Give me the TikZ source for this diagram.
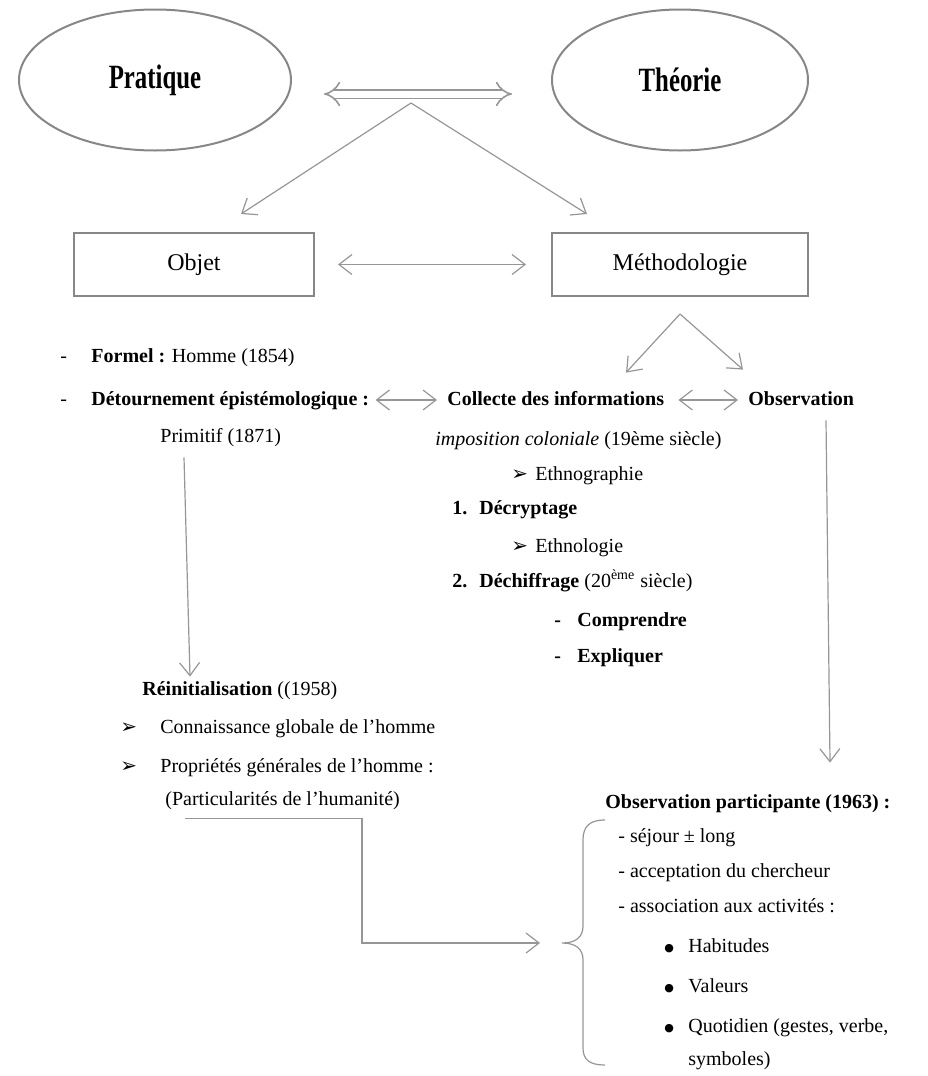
\documentclass[tikz,border=0pt]{standalone}
\usepackage{fontspec}
\setmainfont{Liberation Serif}
\newfontfamily\symfont{DejaVu Sans}
\newfontfamily\headfont[FakeStretch=0.73]{Liberation Serif}
\usetikzlibrary{arrows.meta,shapes.geometric}
\definecolor{lngray}{RGB}{150,150,150}
\definecolor{bxgray}{RGB}{135,135,135}
\newcommand{\leadbox}[2]{\makebox[#1][l]{#2}}
\newcommand{\arrbullet}{{\symfont\fontsize{10}{12}\selectfont ➢}}
\newcommand{\dotbullet}{\raisebox{0.4pt}{\symfont\fontsize{5.5}{6}\selectfont ●}}

\begin{document}
\begin{tikzpicture}[x=0.5pt,y=-0.5pt,>={Straight Barb[length=6.5pt,width=10pt]},
    txt/.style={anchor=west,inner sep=0pt,text height=7pt,text depth=2pt,font=\fontsize{10}{12}\selectfont},
    ovalnode/.style={ellipse,draw=bxgray,line width=1pt,minimum width=136pt,minimum height=70.5pt,font=\headfont\bfseries\fontsize{17}{19}\selectfont},
    boxnode/.style={rectangle,draw=bxgray,line width=1pt,minimum height=31.5pt,font=\fontsize{12}{14}\selectfont},
    link/.style={draw=lngray,line width=0.6pt}]
  \useasboundingbox (0,0) rectangle (927,1076);
  \node[ovalnode] (pratique) at (155,80) {Pratique};
  \node[ovalnode,minimum width=128pt] (theorie) at (680,80) {Théorie};
  \node[boxnode,minimum width=120pt] (objet) at (194,264.5) {Objet};
  \node[boxnode,minimum width=128pt] (methodo) at (680,264.5) {Méthodologie};
  \coordinate (tophub) at (411,103);
  \coordinate (methhub) at ([yshift=-8.5pt]methodo.south);
  \draw[link,line width=0.8pt,double=white,double distance=3.5pt,Implies-Implies,shorten <=16pt,shorten >=19.5pt] ([yshift=-7pt]pratique.east) -- ([yshift=-7pt]theorie.west);
  \draw[link,->] (tophub) -- ([shift={(47,-18)}]objet.north);
  \draw[link,->] (tophub) -- ([shift={(-93,-18)}]methodo.north);
  \draw[link,<->,shorten <=11.5pt,shorten >=12.5pt] (objet) -- (methodo);

  \node[txt] (formel) at (60,357) {\leadbox{15.5pt}{-}\textbf{Formel :} Homme (1854)};
  \node[txt] (detour) at (60,400) {\leadbox{15.5pt}{-}\textbf{Détournement épistémologique :}};
  \node[txt] (collecte) at (447,400) {\textbf{Collecte des informations}};
  \node[txt] (observ) at (748,400) {\textbf{Observation}};
  \node[txt] (primitif) at (160,437) {Primitif (1871)};
  \node[txt] (imposition) at (435,440) {\textit{imposition coloniale} (19ème siècle)};
  \node[txt] (ethnographie) at (511,475) {\leadbox{12pt}{\arrbullet}Ethnographie};
  \node[txt] (decrypt) at (452,509) {\textbf{\leadbox{13.5pt}{1.}Décryptage}};
  \node[txt] (ethnologie) at (511,547) {\leadbox{12pt}{\arrbullet}Ethnologie};
  \node[txt] (dechiff) at (452,582) {\textbf{\leadbox{13.5pt}{2.}Déchiffrage} (20\textsuperscript{ème} siècle)};
  \node[txt] (comprendre) at (554,621) {\textbf{\leadbox{11.5pt}{-}Comprendre}};
  \node[txt] (expliquer) at (554,657) {\textbf{\leadbox{11.5pt}{-}Expliquer}};
  \draw[link,->] (methhub) -- ([shift={(179,-18)}]collecte.north west);
  \draw[link,->] (methhub) -- ([shift={(-5,-21)}]observ.north west);
  \draw[link,<->,shorten <=3pt,shorten >=5pt] (detour.east) -- (collecte.west);
  \draw[link,<->,shorten <=7pt,shorten >=5pt] (collecte.east) -- (observ.west);

  \node[txt] (reinit) at (142,690) {\textbf{Réinitialisation} ((1958)};
  \node[txt] (connaiss) at (120,728) {\leadbox{20pt}{\arrbullet}Connaissance globale de l’homme};
  \node[txt] (propri) at (120,767) {\leadbox{20pt}{\arrbullet}Propriétés générales de l’homme :};
  \node[txt] (particul) at (165,800) {(Particularités de l’humanité)};
  \draw[link,->] ([shift={(24,11)}]primitif.south west) -- ([shift={(48,-4)}]reinit.north west);

  \node[txt] (obspart) at (605,803) {\textbf{Observation participante (1963) :}};
  \node[txt] (sejour) at (618,837) {- séjour ± long};
  \node[txt] (accept) at (618,872) {- acceptation du chercheur};
  \node[txt] (assoc) at (618,907) {- association aux activités :};
  \node[txt] (habit) at (664,947) {\leadbox{12pt}{\dotbullet}Habitudes};
  \node[txt] (valeurs) at (664,987) {\leadbox{12pt}{\dotbullet}Valeurs};
  \node[txt] (quotid) at (664,1027) {\leadbox{12pt}{\dotbullet}Quotidien (gestes, verbe,};
  \node[txt] (symboles) at (688,1060) {symboles)};
  \draw[link,->] ([shift={(78,11)}]observ.south west) -- ([shift={(225,-31)}]obspart.north west);

  % accolade
  \coordinate (bracetip) at (562,943);
  \draw[link] (605,820) .. controls (590,820) and (583,826) .. (583,840) -- (583,926)
    .. controls (583,937) and (576,943) .. (bracetip) .. controls (576,943) and (583,949) .. (583,960)
    -- (583,1048) .. controls (583,1060) and (590,1065) .. (605,1065);
  \draw[link,->,shorten >=11pt] ([shift={(20,9)}]particul.south west) -- ++(177,0) |- (bracetip);
\end{tikzpicture}
\end{document}
